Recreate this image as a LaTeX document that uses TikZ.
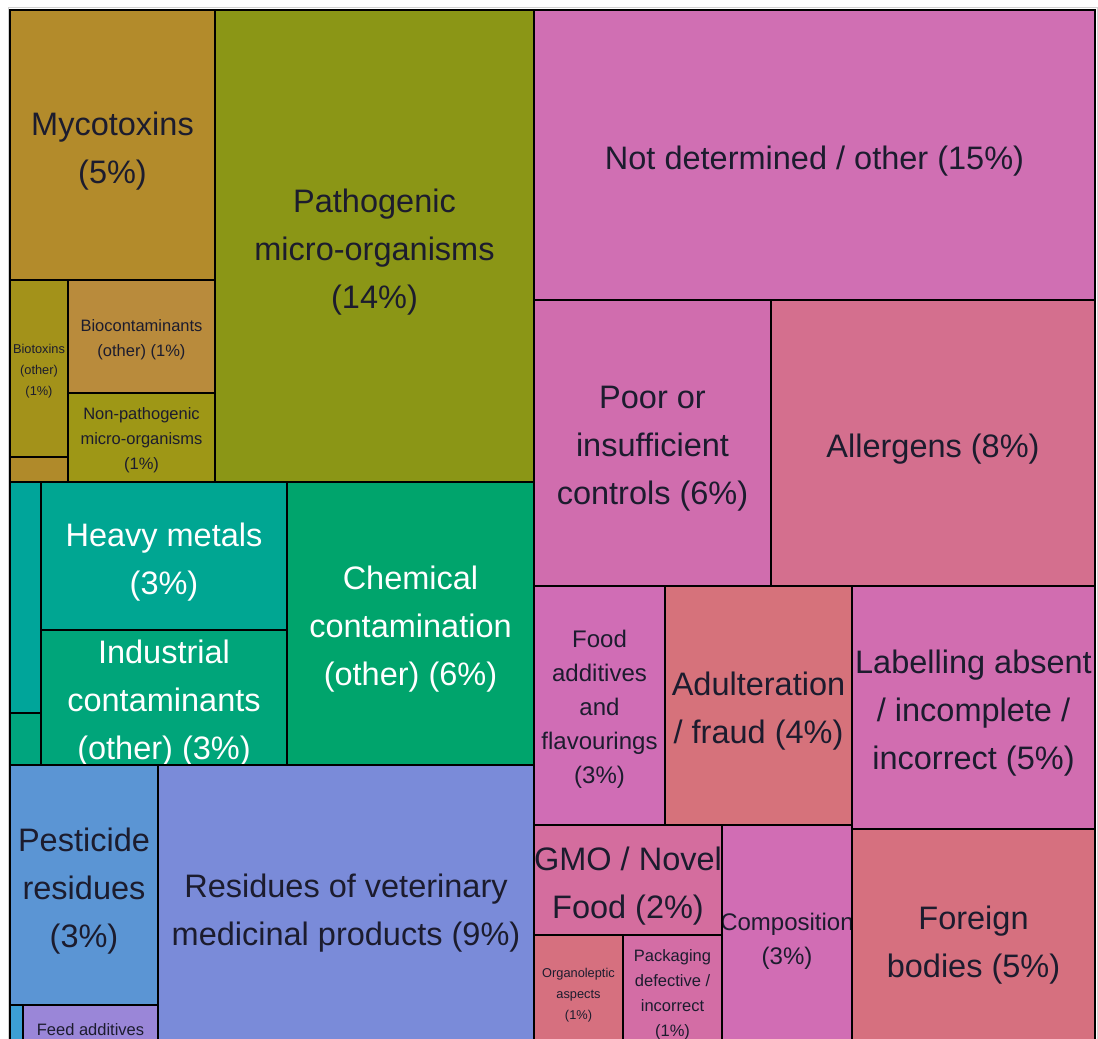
\documentclass[tikz,border=0pt]{standalone}
\usepackage{fontspec}
\setmainfont{Liberation Sans}
% tile colours
\definecolor{cMyco}{HTML}{B38B2B}
\definecolor{cBiotox}{HTML}{A3921A}
\definecolor{cGoldSmall}{HTML}{B08A2A}
\definecolor{cBiocont}{HTML}{B98B3C}
\definecolor{cNonPath}{HTML}{9E9716}
\definecolor{cPatho}{HTML}{8B9616}
\definecolor{cNotDet}{HTML}{D06FB3}
\definecolor{cPoor}{HTML}{D06DAE}
\definecolor{cAllerg}{HTML}{D46F8E}
\definecolor{cFoodAdd}{HTML}{D06DB5}
\definecolor{cAdult}{HTML}{D6727B}
\definecolor{cLabel}{HTML}{D16DB0}
\definecolor{cGmo}{HTML}{D46D9E}
\definecolor{cOrgano}{HTML}{D6707F}
\definecolor{cPack}{HTML}{D36DA5}
\definecolor{cCompo}{HTML}{D16DB4}
\definecolor{cForeign}{HTML}{D6707F}
\definecolor{cStripA}{HTML}{00A59A}
\definecolor{cStripB}{HTML}{00A57E}
\definecolor{cHeavy}{HTML}{00A692}
\definecolor{cIndus}{HTML}{00A57A}
\definecolor{cChem}{HTML}{00A46C}
\definecolor{cPest}{HTML}{5B95D4}
\definecolor{cStripC}{HTML}{3C9FD4}
\definecolor{cFeed}{HTML}{9A86D8}
\definecolor{cResid}{HTML}{7A8BD9}
\definecolor{ink}{HTML}{1C1C2E}

\tikzset{
  lbl/.style={align=center, inner sep=0pt, text=ink},
  big/.style={lbl, yshift=-6pt, font=\fontsize{32.5}{48}\selectfont},
  mid/.style={lbl, yshift=-4pt, font=\fontsize{24}{34}\selectfont},
  small/.style={lbl, yshift=-3pt, font=\fontsize{16.5}{25}\selectfont},
  tiny/.style={lbl, yshift=-3pt, font=\fontsize{12.8}{21}\selectfont},
  light/.style={text=white},
  edge/.style={draw=black, line width=1.6pt},
}

% #1 name, #2-#5 corners, #6 fill colour, #7 label style, #8 label text
\newcommand\tile[8]{%
  \begin{scope}
    \clip (#2,#3) rectangle (#4,#5);
    \fill[#6] (#2,#3) rectangle (#4,#5);
    \node[#7] (#1) at ({(#2+#4)/2},{(#3+#5)/2}) {#8};
  \end{scope}}

\begin{document}
\begin{tikzpicture}[x=1pt, y=-1pt]
\useasboundingbox (0,0) rectangle (1098,1039);
\fill[white] (0,0) rectangle (1098,1039);
\clip (0,0) rectangle (1098,1039);

% faint frame around the chart
\draw[gray!35, line width=1pt] (8,1039) -- (8,7) -- (1097,7) -- (1097,1039);

% biological hazards
\tile{myco}{10}{10}{215}{280}{cMyco}{big}{Mycotoxins\\(5\%)}
\tile{biotox}{10}{280}{68}{457}{cBiotox}{tiny}{Biotoxins\\(other)\\(1\%)}
\tile{goldsmall}{10}{457}{68}{482}{cGoldSmall}{tiny}{}
\tile{biocont}{68}{280}{215}{393}{cBiocont}{small}{Biocontaminants\\(other) (1\%)}
\tile{nonpath}{68}{393}{215}{482}{cNonPath}{small}{Non-pathogenic\\micro-organisms\\(1\%)}
\tile{patho}{215}{10}{534}{482}{cPatho}{big}{Pathogenic\\micro-organisms\\(14\%)}

% other hazards
\tile{notdet}{534}{10}{1095}{300}{cNotDet}{big}{Not determined / other (15\%)}
\tile{poor}{534}{300}{771}{586}{cPoor}{big}{Poor or\\insufficient\\controls (6\%)}
\tile{allerg}{771}{300}{1095}{586}{cAllerg}{big}{Allergens (8\%)}
\tile{foodadd}{534}{586}{665}{825}{cFoodAdd}{mid}{Food\\additives\\and\\flavourings\\(3\%)}
\tile{adult}{665}{586}{852}{825}{cAdult}{big}{Adulteration\\/ fraud (4\%)}
\tile{label}{852}{586}{1095}{829}{cLabel}{big}{Labelling absent\\/ incomplete /\\incorrect (5\%)}
\tile{gmo}{534}{825}{722}{935}{cGmo}{big}{GMO / Novel\\Food (2\%)}
\tile{organo}{534}{935}{623}{1049}{cOrgano}{tiny}{Organoleptic\\aspects\\(1\%)}
\tile{pack}{623}{935}{722}{1049}{cPack}{small}{Packaging\\defective /\\incorrect\\(1\%)}
\tile{compo}{722}{825}{852}{1049}{cCompo}{mid}{Composition\\(3\%)}
\tile{foreign}{852}{829}{1095}{1049}{cForeign}{big}{Foreign\\bodies (5\%)}

% chemical hazards
\tile{stripA}{10}{482}{41}{713}{cStripA}{tiny}{}
\tile{stripB}{10}{713}{41}{765}{cStripB}{tiny}{}
\tile{heavy}{41}{482}{287}{630}{cHeavy}{big,light}{Heavy metals\\(3\%)}
\tile{indus}{41}{630}{287}{765}{cIndus}{big,light}{Industrial\\contaminants\\(other) (3\%)}
\tile{chem}{287}{482}{534}{765}{cChem}{big,light}{Chemical\\contamination\\(other) (6\%)}

% residues
\tile{pest}{10}{765}{158}{1005}{cPest}{big}{Pesticide\\residues\\(3\%)}
\tile{stripC}{10}{1005}{23}{1049}{cStripC}{tiny}{}
\tile{feed}{23}{1005}{158}{1049}{cFeed}{small}{Feed additives}
\tile{resid}{158}{765}{534}{1049}{cResid}{big}{Residues of veterinary\\medicinal products (9\%)}

% tile borders
\foreach \xa/\ya/\xb/\yb in {
  10/10/215/280, 10/280/68/457, 10/457/68/482, 68/280/215/393, 68/393/215/482,
  215/10/534/482, 534/10/1095/300, 534/300/771/586, 771/300/1095/586,
  534/586/665/825, 665/586/852/825, 852/586/1095/829, 534/825/722/935,
  534/935/623/1049, 623/935/722/1049, 722/825/852/1049, 852/829/1095/1049,
  10/482/41/713, 10/713/41/765, 41/482/287/630, 41/630/287/765, 287/482/534/765,
  10/765/158/1005, 10/1005/23/1049, 23/1005/158/1049, 158/765/534/1049}
  \draw[edge] (\xa,\ya) rectangle (\xb,\yb);
\end{tikzpicture}
\end{document}
